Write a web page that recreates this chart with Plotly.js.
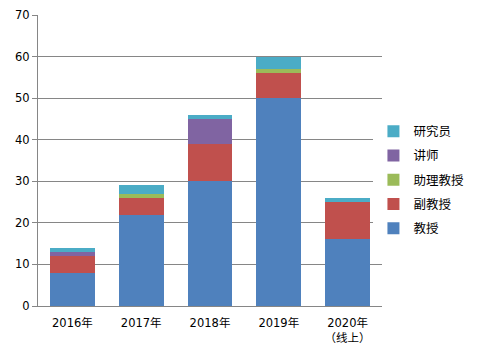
<!DOCTYPE html>
<html>
<head>
<meta charset="utf-8">
<script src="https://cdn.plot.ly/plotly-3.0.1.min.js"></script>
<style>html,body{margin:0;padding:0;background:#fff;}#chart{width:480px;height:358px;}</style>
</head>
<body>
<div id="chart"></div>
<script>
var categories = ["2016年", "2017年", "2018年", "2019年", "2020年<br>（线上）"];
var professor = [8, 22, 30, 50, 16];
var associateProfessor = [4, 4, 9, 6, 9];
var assistantProfessor = [0, 1, 0, 1, 0];
var lecturer = [1, 0, 6, 0, 0];
var researcher = [1, 2, 1, 3, 1];

var seriesNames = ["教授", "副教授", "助理教授", "讲师", "研究员"];
var seriesValues = [professor, associateProfessor, assistantProfessor, lecturer, researcher];
var seriesColors = ["#4F81BD", "#C0504D", "#9BBB59", "#8064A2", "#4BACC6"];

var font = "DejaVu Sans, 'Noto Sans CJK SC', sans-serif";
var traces = seriesNames.map(function (n, i) {
  return {
    type: "bar",
    name: n,
    x: categories,
    y: seriesValues[i],
    marker: {color: seriesColors[i]},
    legendgroup: "g" + i,
    legendrank: 1000 - i,
    hoverinfo: "x+y+name"
  };
});

var layout = {
  width: 480, height: 358,
  margin: {l: 38, r: 98, t: 15, b: 52, autoexpand: false},
  barmode: "stack",
  bargap: 0.35,
  paper_bgcolor: "#fff",
  plot_bgcolor: "#fff",
  font: {family: font, size: 11, color: "#000"},
  showlegend: true,
  legend: {
    xref: "container", yref: "container",
    x: 0.778, xanchor: "left", y: 0.497, yanchor: "middle",
    traceorder: "grouped",
    tracegroupgap: 5,
    font: {family: "'Noto Sans CJK SC', sans-serif", size: 12.5, color: "#000"},
    itemwidth: 30
  },
  xaxis: {
    type: "category",
    showline: true, linecolor: "#868686", linewidth: 1,
    ticks: "", showgrid: false,
    tickfont: {family: font, size: 11.5},
    ticklabelstandoff: 6,
    fixedrange: true
  },
  yaxis: {
    range: [0, 70], dtick: 10,
    showline: true, linecolor: "#868686", linewidth: 1,
    showgrid: true, gridcolor: "#868686", gridwidth: 1,
    ticks: "outside", ticklen: 5, tickcolor: "#868686",
    tickfont: {family: font, size: 11.5},
    zeroline: false,
    fixedrange: true
  }
};

Plotly.newPlot("chart", traces, layout, {displayModeBar: false, staticPlot: true});
</script>
</body>
</html>
